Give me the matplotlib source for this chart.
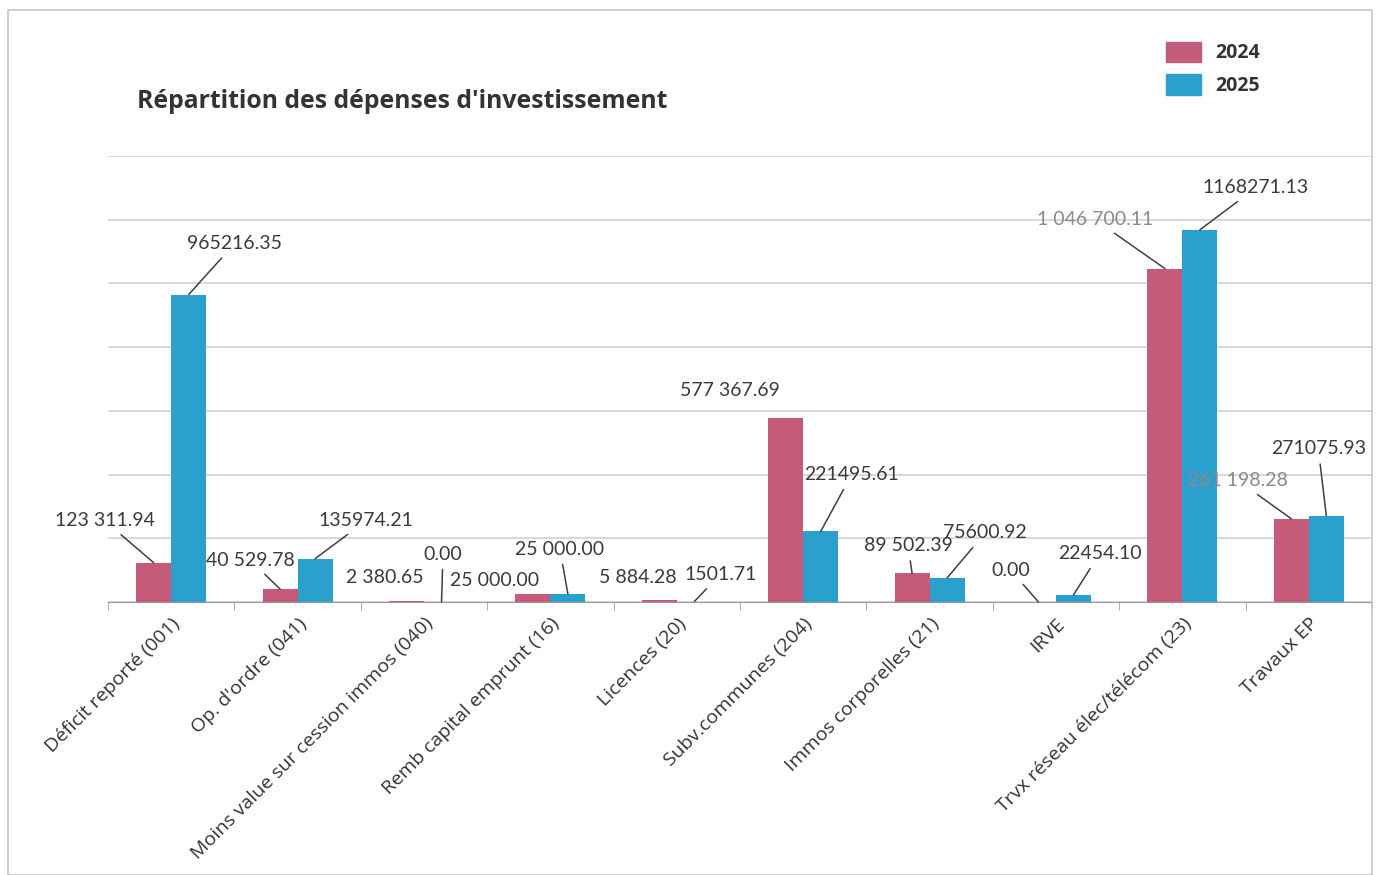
import matplotlib
matplotlib.use("Agg")
import matplotlib.pyplot as plt
from matplotlib.patches import Rectangle

# ---------------- data ----------------
categories = [
    "Déficit reporté (001)", "Op. d'ordre (041)", "Moins value sur cession immos (040)",
    "Remb capital emprunt (16)", "Licences (20)", "Subv.communes (204)",
    "Immos corporelles (21)", "IRVE", "Trvx réseau élec/télécom (23)", "Travaux EP",
]
values_2024 = [123311.94, 40529.78, 2380.65, 25000.00, 5884.28, 577367.69,
               89502.39, 0.00, 1046700.11, 261198.28]
values_2025 = [965216.35, 135974.21, 0.00, 25000.00, 1501.71, 221495.61,
               75600.92, 22454.10, 1168271.13, 271075.93]
labels_2024 = ["123 311.94", "40 529.78", "2 380.65", "25 000.00", "5 884.28",
               "577 367.69", "89 502.39", "0.00", "1 046 700.11", "261 198.28"]
labels_2025 = ["965216.35", "135974.21", "0.00", "25 000.00", "1501.71",
               "221495.61", "75600.92", "22454.10", "1168271.13", "271075.93"]
series_names = ["2024", "2025"]

# ---------------- layout (pixel offsets of labels from bar tops) ----------------
off_2024 = [(-49, 42), (-30, 29), (-22, 24), (-38, 14), (-21, 23),
            (-56, 28), (-4, 28), (-28, 32), (-70, 49), (-53, 38)]
lead_2024 = [True, True, False, False, False, False, True, True, True, True]
gray_2024 = [False] * 8 + [True, True]
off_2025 = [(46, 51), (51, 38), (1.5, 48), (-8, 45), (26, 27),
            (31, 57), (38, 45), (26, 41), (56, 42), (-8, 67)]
lead_2025 = [True] * 10

C24 = "#C65A79"
C25 = "#2BA0CC"
W, H = 1381, 875

fig = plt.figure(figsize=(W / 100, H / 100), dpi=100)
fig.patch.set_facecolor("white")
fig.patches.append(Rectangle((8 / W, 0), (1372 - 8) / W, (H - 10) / H,
                             transform=fig.transFigure, fill=False,
                             edgecolor="#c8c8c8", lw=1.2))

ax = fig.add_axes([108 / W, (H - 602) / H, (1372 - 108) / W, (602 - 156) / H])
ax.set_xlim(-0.5, len(categories) - 0.5)
ax.set_ylim(0, 1400000)
for s in ["top", "right", "left"]:
    ax.spines[s].set_visible(False)
ax.spines["bottom"].set_color("#9a9a9a")
ax.set_yticks(range(0, 1400001, 200000))
ax.set_yticklabels([])
ax.tick_params(axis="y", length=0)
ax.grid(axis="y", color="#d2d2d2", lw=1.2)
ax.set_axisbelow(True)

bw = 0.277
xs = list(range(len(categories)))
ax.bar([x - bw / 2 for x in xs], values_2024, width=bw, color=C24, label=series_names[0])
ax.bar([x + bw / 2 for x in xs], values_2025, width=bw, color=C25, label=series_names[1])

ax.set_xticks(xs)
ax.set_xticklabels(categories, rotation=45, ha="right", rotation_mode="anchor",
                   fontsize=14, color="#333333", family="Open Sans")
ax.tick_params(axis="x", length=0, pad=9)
ax.set_xticks([x + 0.5 for x in range(-1, len(categories))], minor=True)
ax.tick_params(axis="x", which="minor", length=6, color="#a0a0a0")

def put(x, v, lab, off, lead, gray):
    col = "#8a8a8a" if gray else "#3a3a3a"
    ap = dict(arrowstyle="-", color="#404040", lw=1.1, shrinkA=3, shrinkB=0) if lead else None
    ax.annotate(lab, xy=(x, v), xytext=off, textcoords="offset pixels",
                ha="center", va="center", fontsize=14, color=col, family="Lato",
                arrowprops=ap)

for i in xs:
    put(i - bw / 2, values_2024[i], labels_2024[i], off_2024[i], lead_2024[i], gray_2024[i])
    put(i + bw / 2, values_2025[i], labels_2025[i], off_2025[i], lead_2025[i], False)

fig.text(137 / W, 1 - 101 / H, "Répartition des dépenses d'investissement",
         fontsize=17.8, fontweight="bold", color="#333333", family="Open Sans",
         ha="left", va="center")

handles = [Rectangle((0, 0), 1, 1, color=C24), Rectangle((0, 0), 1, 1, color=C25)]
leg = fig.legend(handles, series_names, loc="upper left",
                 bbox_to_anchor=(1150 / W, 1 - 26 / H), frameon=False,
                 prop=dict(family="Open Sans", weight="bold", size=14),
                 handlelength=1.8, handleheight=1.25, labelspacing=0.55,
                 handletextpad=0.75, borderpad=0.3)
for t in leg.get_texts():
    t.set_color("#333333")

fig.savefig("out.png", dpi=100, facecolor="white")
